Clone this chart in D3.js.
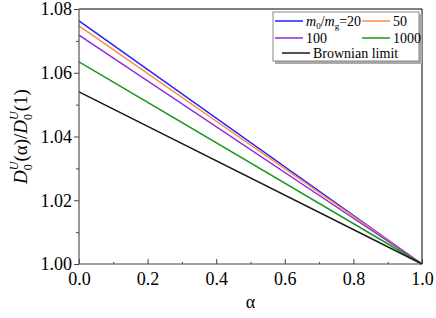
<!DOCTYPE html>
<html>
<head>
<meta charset="utf-8">
<script src="https://cdn.jsdelivr.net/npm/d3@7"></script>
<style>
  body { margin: 0; background: #fff; }
</style>
</head>
<body>
<div id="chart"></div>
<script>
// data
let alphas = [0, 1]
let seriesNames = ["20", "50", "100", "1000", "Brownian limit"]
let seriesColors = ["#1f1fff", "#ff8c3a", "#8b2be2", "#1a9a1a", "#1a1a1a"]
let blueVals = [1.0763, 1.0]
let orangeVals = [1.0747, 1.0]
let purpleVals = [1.0718, 1.0]
let greenVals = [1.0634, 1.0]
let blackVals = [1.0540, 1.0]
let allVals = [blueVals, orangeVals, purpleVals, greenVals, blackVals]
let xTicks = [0, 0.2, 0.4, 0.6, 0.8, 1.0]
let yTicks = [1.00, 1.02, 1.04, 1.06, 1.08]

const serif = "'Liberation Serif', 'Times New Roman', serif"
let margin = { top: 9, right: 14, bottom: 54, left: 79 }
let dims = { width: 436, height: 318 }
let plotW = dims.width - margin.left - margin.right
let plotH = dims.height - margin.top - margin.bottom

const svg = d3.select("#chart")
  .append("svg")
  .attr("width", dims.width)
  .attr("height", dims.height)
  .style("font-family", serif)
const g = svg.append("g")
  .attr("transform", `translate(${margin.left},${margin.top})`)

let x = d3.scaleLinear().domain([0, 1]).range([0, plotW])
let y = d3.scaleLinear().domain([1.0, 1.08]).range([plotH, 0])

// frame top / right
g.append("line").attr("x1", 0).attr("x2", plotW).attr("y1", 0).attr("y2", 0)
  .attr("stroke", "#000").attr("stroke-width", 1)
g.append("line").attr("x1", plotW).attr("x2", plotW).attr("y1", 0).attr("y2", plotH)
  .attr("stroke", "#000").attr("stroke-width", 1)

// lines
let line = d3.line().x((d, i) => x(alphas[i])).y(d => y(d))
g.selectAll(".series")
  .data(allVals)
  .join("path")
  .attr("class", "series")
  .attr("d", d => line(d))
  .attr("fill", "none")
  .attr("stroke", (d, i) => seriesColors[i])
  .attr("stroke-width", 1.5)

// x axis, ticks inward
let xAxisG = g.append("g").attr("transform", `translate(0,${plotH})`)
xAxisG.call(d3.axisTop(x).tickValues(d3.range(0.1, 1, 0.2)).tickSize(2).tickFormat("").tickSizeOuter(0))
xAxisG.call(g2 => g2.select(".domain").remove())
let xMajor = g.append("g").attr("transform", `translate(0,${plotH})`)
  .call(d3.axisTop(x).tickValues(xTicks).tickSize(5).tickFormat(d3.format(".1f")).tickSizeOuter(0))
xMajor.select(".domain").remove()
xMajor.selectAll("text")
  .attr("y", 21).attr("dy", 0)
  .attr("fill", "#000")
  .style("font-family", serif).style("font-size", "18px")
g.append("line").attr("x1", 0).attr("x2", plotW).attr("y1", plotH).attr("y2", plotH)
  .attr("stroke", "#444").attr("stroke-width", 1.2)

// y axis, ticks outward
let yMinor = g.append("g")
  .call(d3.axisLeft(y).tickValues([1.01, 1.03, 1.05, 1.07]).tickSize(3).tickFormat("").tickSizeOuter(0))
yMinor.select(".domain").remove()
let yMajor = g.append("g")
  .call(d3.axisLeft(y).tickValues(yTicks).tickSize(5).tickFormat(d3.format(".2f")).tickSizeOuter(0))
yMajor.select(".domain").remove()
yMajor.selectAll("text")
  .attr("x", -7)
  .attr("fill", "#000")
  .style("font-family", serif).style("font-size", "18px")
g.append("line").attr("x1", 0).attr("x2", 0).attr("y1", 0).attr("y2", plotH)
  .attr("stroke", "#555").attr("stroke-width", 1.2)
g.selectAll(".tick line").attr("stroke", "#444")

// axis titles
svg.append("text")
  .attr("x", margin.left + plotW / 2)
  .attr("y", 308)
  .attr("text-anchor", "middle")
  .style("font-family", serif).style("font-size", "18px")
  .text("α")

let yl = svg.append("text")
  .attr("transform", "rotate(-90)")
  .attr("x", -(margin.top + plotH / 2))
  .attr("y", 27)
  .attr("text-anchor", "middle")
  .style("font-family", serif).style("font-size", "19px")
yl.append("tspan").attr("font-style", "italic").text("D")
yl.append("tspan").attr("font-size", 12).attr("dy", 5).text("0")
yl.append("tspan").attr("font-size", 12).attr("font-style", "italic").attr("dx", -6).attr("dy", -14).text("U")
yl.append("tspan").attr("dy", 9).text("(α)/")
yl.append("tspan").attr("font-style", "italic").text("D")
yl.append("tspan").attr("font-size", 12).attr("dy", 5).text("0")
yl.append("tspan").attr("font-size", 12).attr("font-style", "italic").attr("dx", -6).attr("dy", -14).text("U")
yl.append("tspan").attr("dy", 9).text("(1)")

// legend
let leg = svg.append("g").attr("transform", "translate(273,12)")
leg.append("rect").attr("x", 2).attr("y", 2).attr("width", 147).attr("height", 50).attr("fill", "#aaa")
leg.append("rect").attr("x", 0).attr("y", 0).attr("width", 146).attr("height", 49)
  .attr("fill", "#fff").attr("stroke", "#888").attr("stroke-width", 1)

let legPos = [[2, 9], [89, 9], [2, 26], [89, 26], [9, 41]]
seriesNames.forEach((name, i) => {
  let [lx, ly] = legPos[i]
  leg.append("line").attr("x1", lx).attr("x2", lx + 28).attr("y1", ly).attr("y2", ly)
    .attr("stroke", seriesColors[i]).attr("stroke-width", 1.5)
  let t = leg.append("text").attr("x", lx + 31).attr("y", ly + 5)
    .style("font-family", serif).style("font-size", "14px")
  if (i === 0) {
    t.append("tspan").attr("font-style", "italic").text("m")
    t.append("tspan").attr("font-size", 9).attr("dy", 3).text("0")
    t.append("tspan").attr("dy", -3).text("/")
    t.append("tspan").attr("font-style", "italic").text("m")
    t.append("tspan").attr("font-size", 9).attr("dy", 3).text("g")
    t.append("tspan").attr("dy", -3).text("=" + name)
  } else {
    t.text(name)
  }
})
</script>
</body>
</html>
